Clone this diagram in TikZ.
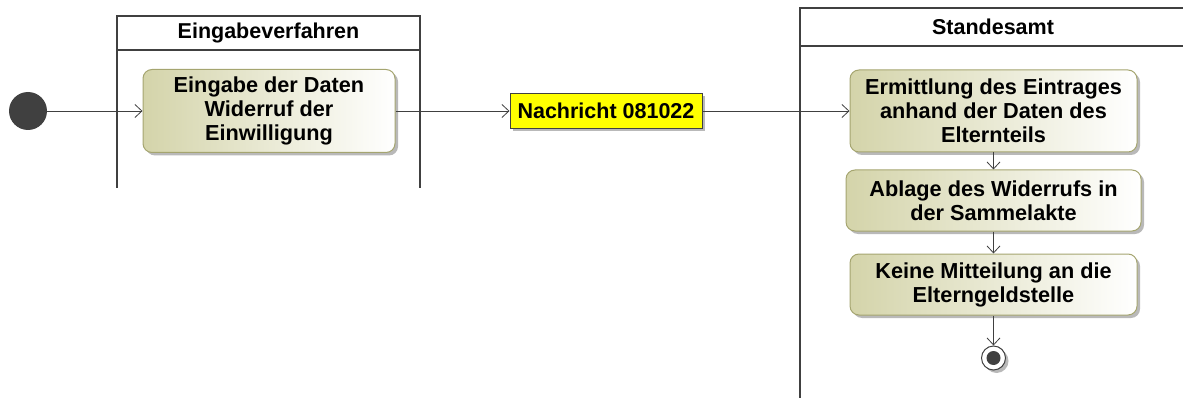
\documentclass[tikz,border=0pt]{standalone}
\usepackage{fontspec}
\setmainfont{Liberation Sans}
\usetikzlibrary{arrows.meta,positioning,shadows}
\definecolor{umlline}{RGB}{64,64,64}
\definecolor{umlolive}{RGB}{212,212,170}
\definecolor{umlborder}{RGB}{165,165,112}
\definecolor{umlshadow}{RGB}{185,185,185}
\definecolor{umlyellow}{RGB}{255,255,0}

\begin{document}
\begin{tikzpicture}[x=1pt, y=-1pt,
  actbox/.style={
    rectangle, rounded corners=9pt,
    draw=umlborder, line width=1pt,
    left color=umlolive, right color=white,
    inner sep=0pt, align=center,
    font=\bfseries\fontsize{21.7}{24}\selectfont,
    drop shadow={shadow xshift=3pt, shadow yshift=-3pt, fill=umlshadow, opacity=1}
  },
  msgbox/.style={
    rectangle, draw=umlline, line width=1pt, fill=umlyellow,
    inner sep=0pt, minimum width=192pt, minimum height=35pt,
    font=\bfseries\fontsize{21.5}{24}\selectfont,
    drop shadow={shadow xshift=3pt, shadow yshift=-3pt, fill=umlshadow, opacity=1}
  },
  pool/.style={draw=umlline, line width=2pt},
  pooltitle/.style={font=\bfseries\fontsize{21.5}{24}\selectfont, inner sep=0pt},
  initstate/.style={circle, fill=umlline, minimum size=38pt, inner sep=0pt},
  finalstate/.style={circle, draw=umlline, line width=1pt, fill=white,
    minimum size=24pt, inner sep=0pt,
    drop shadow={shadow xshift=3pt, shadow yshift=-3pt, fill=umlshadow, opacity=1}},
  conn/.style={-{Straight Barb[length=7pt, width=13pt]}, draw=umlline, line width=0.8pt}
]
\useasboundingbox (0,0) rectangle (1183,398);

% partitions
\draw[pool] (117,188) -- (117,16) -- (420,16) -- (420,188);
\draw[pool] (117,50) -- (420,50);
\node[pooltitle] (eingabeverf) at (268.5,33) {Eingabeverfahren};
\draw[pool] (800,398) -- (800,8) -- (1183,8);
\draw[pool] (800,46) -- (1183,46);
\node[pooltitle] (standesamt) at (993,27) {Standesamt};

% nodes
\node[initstate] (start) at (28,111) {};
\node[actbox, minimum width=252pt, minimum height=83pt] (eingabe) at (269,111)
  {Eingabe der Daten\\Widerruf der\\Einwilligung};
\node[msgbox] (nachricht) at (606,111) {Nachricht 081022};
\node[actbox, minimum width=287pt, minimum height=82pt] (ermittlung) at (993.5,111)
  {Ermittlung des Eintrages\\anhand der Daten des\\Elternteils};
\node[actbox, minimum width=295pt, minimum height=61pt] (ablage) at (993.5,200.5)
  {Ablage des Widerrufs in\\der Sammelakte};
\node[actbox, minimum width=287pt, minimum height=61pt] (mitteilung) at (993.5,284.5)
  {Keine Mitteilung an die\\Elterngeldstelle};
\node[finalstate] (ende) at (993.5,358) {};
\fill[umlline] (ende.center) circle (7);

% flows
\draw[conn] (start) -- (eingabe);
\draw[conn] (eingabe) -- (nachricht);
\draw[conn] (nachricht) -- (ermittlung);
\draw[conn] (ermittlung) -- (ablage);
\draw[conn] (ablage) -- (mitteilung);
\draw[conn] (mitteilung) -- (ende);
\end{tikzpicture}
\end{document}
